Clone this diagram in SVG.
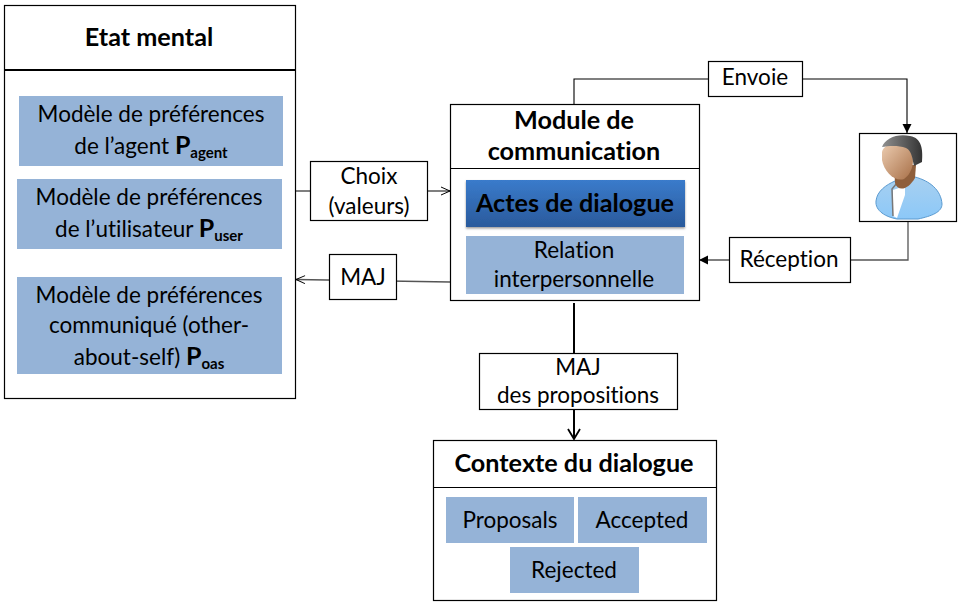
<svg xmlns="http://www.w3.org/2000/svg" width="960" height="614" viewBox="0 0 960 614">
<style>
text{font-family:Lato,"Open Sans","Liberation Sans",sans-serif;fill:#000;text-anchor:middle;font-size:22.500px;font-variant-ligatures:none}
.b{font-weight:700;font-size:25px}
.h{font-weight:700;font-size:25.200px}
.s{font-size:15px;font-weight:700}
.box{fill:#fff;stroke:#000;stroke-width:1.200}
.blue{fill:#95b3d7}
.ln{fill:none;stroke:#000;stroke-width:1.100}
.gr{fill:none;stroke:#555;stroke-width:1.300}
</style>
<defs>
<linearGradient id="btn" x1="0" y1="0" x2="0" y2="1"><stop offset="0" stop-color="#3a7bcb"/><stop offset="1" stop-color="#2a5a9c"/></linearGradient>
<linearGradient id="skin" x1="0" y1="0" x2="1" y2="1"><stop offset="0" stop-color="#ecccb0"/><stop offset="1" stop-color="#a87048"/></linearGradient>
<linearGradient id="shirt" x1="0" y1="0" x2="0" y2="1"><stop offset="0" stop-color="#a8d0f0"/><stop offset="1" stop-color="#8cc8f8"/></linearGradient>
<linearGradient id="hair" x1="0" y1="0" x2="1" y2="0"><stop offset="0" stop-color="#909090"/><stop offset="1" stop-color="#333"/></linearGradient>
<filter id="sh" x="-5%" y="-10%" width="110%" height="125%"><feDropShadow dx="0" dy="1.500" stdDeviation="1.200" flood-color="#000" flood-opacity=".4"/></filter>
<marker id="open" markerWidth="12" markerHeight="12" refX="10" refY="5" orient="auto" markerUnits="userSpaceOnUse"><path d="M1 1 L10 5 L1 9" fill="none" stroke="#000" stroke-width="1"/></marker>
<marker id="open2" markerWidth="14" markerHeight="16" refX="11" refY="7" orient="auto" markerUnits="userSpaceOnUse"><path d="M1 1 L11 7 L1 13" fill="none" stroke="#000" stroke-width="1.800"/></marker>
<marker id="solid" markerWidth="12" markerHeight="12" refX="9" refY="4.500" orient="auto" markerUnits="userSpaceOnUse"><path d="M0 0 L9 4.500 L0 9Z" fill="#000"/></marker>
</defs>

<g id="connectors">
<path class="ln" d="M296 191H450" marker-end="url(#open)"/>
<path class="gr" d="M450 282L296 279.500" marker-end="url(#open)"/>
<path class="ln" d="M574 104V79H907V133" marker-end="url(#solid)"/>
<path class="gr" d="M908 222V260H699" marker-end="url(#solid)"/>
<path d="M574 303V353" fill="none" stroke="#000" stroke-width="2"/>
<path d="M574 409V439" fill="none" stroke="#000" stroke-width="2" marker-end="url(#open2)"/>
</g>

<g id="etat-mental">
<rect class="box" x="4.500" y="5.500" width="291" height="393"/>
<path d="M4.500 70H295.500" stroke="#000" stroke-width="1.800"/>
<text class="h" x="149" y="46">Etat mental</text>
</g>
<g id="pagent">
<rect class="blue" x="19" y="96" width="264" height="70"/>
<text x="151" y="122">Modèle de préférences</text>
<text x="151" y="154">de l’agent <tspan class="b">P</tspan><tspan class="s" dy="4">agent</tspan></text>
</g>
<g id="puser">
<rect class="blue" x="17" y="179" width="265" height="70"/>
<text x="149" y="205">Modèle de préférences</text>
<text x="149" y="237">de l’utilisateur <tspan class="b">P</tspan><tspan class="s" dy="4">user</tspan></text>
</g>
<g id="poas">
<rect class="blue" x="17" y="277" width="265" height="97"/>
<text x="149" y="303">Modèle de préférences</text>
<text x="149" y="333">communiqué (other-</text>
<text x="149" y="365">about-self) <tspan class="b">P</tspan><tspan class="s" dy="4">oas</tspan></text>
</g>

<g id="choix">
<rect class="box" x="310.500" y="161.500" width="117" height="59"/>
<text x="369" y="184">Choix</text>
<text x="369" y="214">(valeurs)</text>
</g>
<g id="maj-gauche">
<rect class="box" x="329.500" y="254.500" width="67" height="45"/>
<text x="363" y="285">MAJ</text>
</g>

<g id="module">
<rect class="box" x="450.500" y="104.500" width="249" height="196"/>
<path d="M450.500 168.500H699.500" stroke="#000" stroke-width="1.200"/>
<text class="h" x="574" y="129">Module de</text>
<text class="h" x="574" y="160">communication</text>
</g>
<g id="actes">
<rect x="466" y="180" width="219" height="47" fill="url(#btn)" filter="url(#sh)"/>
<text class="h" x="575" y="212">Actes de dialogue</text>
</g>
<g id="relation">
<rect class="blue" x="466" y="236" width="218" height="58"/>
<text x="574" y="258">Relation</text>
<text x="574" y="287">interpersonnelle</text>
</g>

<g id="envoie">
<rect class="box" x="708.500" y="61.500" width="94" height="35"/>
<text x="755" y="85">Envoie</text>
</g>
<g id="reception">
<rect class="box" x="729.500" y="237.500" width="121" height="45"/>
<text x="789" y="267">Réception</text>
</g>

<g id="utilisateur">
<rect class="box" x="859.500" y="133.500" width="97" height="88"/>
<path d="M876 201C877 191 886 185 895 181L915 177C930 181 941 190 942 204C942 212 932 216 918 219H897C886 217 875 211 876 201Z" fill="url(#shirt)" stroke="#5a9ad0" stroke-width="1"/>
<path d="M893 190L905 186L905 195L897 218L893 216Z" fill="#fff"/>
<path d="M893 216L892 189L897 183" fill="none" stroke="#777" stroke-width="1.500"/>
<path d="M894 165L895 183C898 192 908 190 915 178L916 165Z" fill="#8f5f3c"/>
<path d="M882 152C884 143 899 141 908 148C916 156 914 172 904 179C895 182 884 172 882 160Z" fill="url(#skin)"/>
<path d="M882 147C885 138 898 133 910 136C922 138 923 150 922 162L914 166C912 158 912 151 906 148C898 145 888 146 882 147Z" fill="url(#hair)"/>
</g>

<g id="maj-propositions">
<rect class="box" x="479.500" y="353.500" width="198" height="56"/>
<text x="578" y="375">MAJ</text>
<text x="578" y="403">des propositions</text>
</g>

<g id="contexte">
<rect class="box" x="433.500" y="440.500" width="283" height="160"/>
<path d="M433.500 487.500H716.500" stroke="#000" stroke-width="1.200"/>
<text class="h" x="574" y="472">Contexte du dialogue</text>
</g>
<g id="proposals">
<rect class="blue" x="446" y="497" width="128" height="46"/>
<text x="510" y="528">Proposals</text>
</g>
<g id="accepted">
<rect class="blue" x="578" y="497" width="129" height="46"/>
<text x="642" y="528">Accepted</text>
</g>
<g id="rejected">
<rect class="blue" x="510" y="547" width="129" height="46"/>
<text x="574" y="578">Rejected</text>
</g>
</svg>
